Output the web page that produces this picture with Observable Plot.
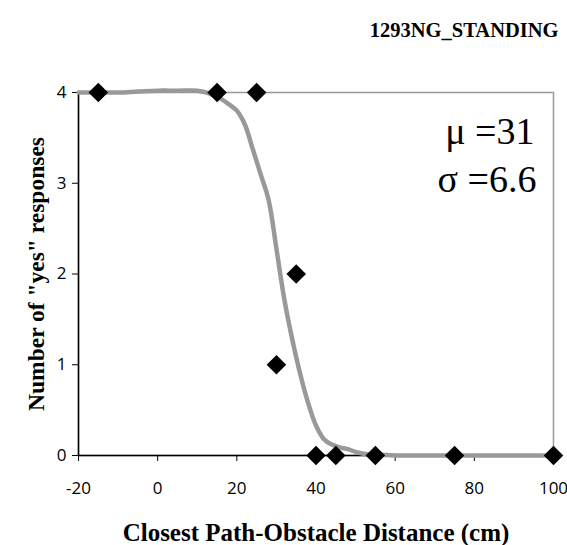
<!DOCTYPE html>
<html>
<head>
<meta charset="utf-8">
<script src="https://cdn.jsdelivr.net/npm/d3@7"></script>
<script src="https://cdn.jsdelivr.net/npm/@observablehq/plot@0.6"></script>
<style>
  html, body { margin: 0; padding: 0; background: #fff; }
  #chart svg { display: block; }
</style>
</head>
<body>
<div id="chart"></div>
<script>
// observed responses
const obsX = [-15, 15, 25, 30, 35, 40, 45, 55, 75, 100];
const obsY = [4, 4, 4, 1, 2, 0, 0, 0, 0, 0];

// fitted curve
const fitX = [-20, -15, -10, -5, 0, 5, 10, 13, 16, 18, 20, 22, 24, 26, 28, 30, 32, 34, 36, 38, 40, 42, 44, 46, 48, 50, 52, 55, 60, 70, 80, 90, 100];
const fitY = [4.0, 4.0, 4.0, 4.01, 4.02, 4.02, 4.02, 3.99, 3.93, 3.87, 3.80, 3.65, 3.38, 3.10, 2.82, 2.28, 1.72, 1.28, 0.90, 0.58, 0.33, 0.18, 0.12, 0.09, 0.07, 0.04, 0.02, 0.01, 0, 0, 0, 0, 0];

const xTicks = [-20, 0, 20, 40, 60, 80, 100];
const yTicks = [0, 1, 2, 3, 4];

const titleText = "1293NG_STANDING";
const xLabel = "Closest Path-Obstacle Distance (cm)";
const yLabel = "Number of \"yes\" responses";
const statLines = ["\u03bc =31", "\u03c3 =6.6"];

const obs = obsX.map((x, i) => ({x, y: obsY[i]}));
const fit = fitX.map((x, i) => ({x, y: fitY[i]}));

const fmt = d => String(d);
const boldSerif = "Liberation Serif";
const regSerif = "Times New Roman";

const chart = Plot.plot({
  width: 567,
  height: 545,
  marginLeft: 78,
  marginRight: 14,
  marginTop: 92,
  marginBottom: 90,
  style: {fontFamily: "'Open Sans', sans-serif", fontSize: "17px", color: "#000", background: "#fff", overflow: "visible"},
  x: {domain: [-20, 100], label: null},
  y: {domain: [0, 4], label: null},
  marks: [
    Plot.frame({stroke: "#999", strokeWidth: 1.5}),
    Plot.axisX({ticks: xTicks, tickFormat: fmt, tickSize: 6, tickPadding: 20, label: null, fontSize: 17}),
    Plot.axisY({ticks: yTicks, tickFormat: fmt, tickSize: 6, tickPadding: 6, label: null, fontSize: 17}),
    Plot.ruleX([-20], {stroke: "#000", strokeWidth: 1.5}),
    Plot.ruleY([0], {stroke: "#000", strokeWidth: 1.5}),
    Plot.line(fit, {x: "x", y: "y", stroke: "#999", strokeWidth: 4.5, curve: "catmull-rom"}),
    Plot.dot(obs, {x: "x", y: "y", symbol: "diamond2", r: 8.8, fill: "#000", stroke: null}),
    Plot.text([titleText], {fontFamily: boldSerif, frameAnchor: "top-right", lineAnchor: "middle", textAnchor: "end", dx: 5, dy: -62, fontWeight: "bold", fontSize: 20.5}),
    Plot.text([statLines[0]], {fontFamily: regSerif, frameAnchor: "top-right", lineAnchor: "middle", textAnchor: "end", dx: -19, dy: 39, fontSize: 38}),
    Plot.text([statLines[1]], {fontFamily: regSerif, frameAnchor: "top-right", lineAnchor: "middle", textAnchor: "end", dx: -17, dy: 87, fontSize: 38}),
    Plot.text([xLabel], {fontFamily: boldSerif, frameAnchor: "bottom", lineAnchor: "middle", textAnchor: "middle", dy: 77, fontWeight: "bold", fontSize: 25}),
    Plot.text([yLabel], {fontFamily: boldSerif, frameAnchor: "left", lineAnchor: "middle", textAnchor: "middle", dx: -42, rotate: -90, fontWeight: "bold", fontSize: 23.5})
  ]
});
document.getElementById("chart").appendChild(chart);
</script>
</body>
</html>
